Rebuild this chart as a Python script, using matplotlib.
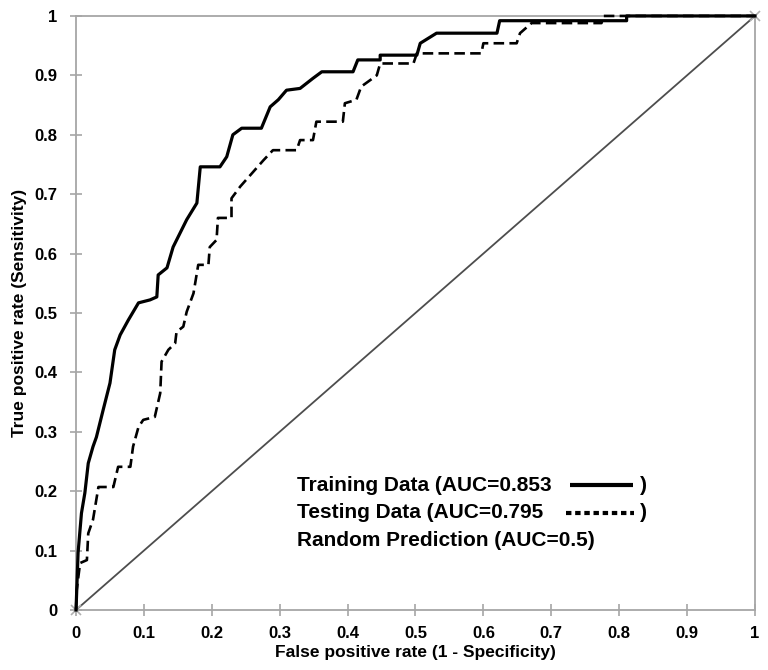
import matplotlib
matplotlib.use("Agg")
import matplotlib.pyplot as plt

# ROC-кривые, значения
train_fpr = [0, 0.003, 0.008, 0.013, 0.018, 0.025, 0.03, 0.04, 0.05, 0.057, 0.065,
             0.077, 0.092, 0.109, 0.119, 0.121, 0.134, 0.143, 0.163, 0.178, 0.183,
             0.212, 0.222, 0.231, 0.244, 0.273, 0.286, 0.298, 0.31, 0.33, 0.349,
             0.362, 0.408, 0.415, 0.448, 0.448, 0.502, 0.507, 0.531, 0.62, 0.624,
             0.811, 0.811, 1.0]
train_tpr = [0, 0.096, 0.163, 0.197, 0.247, 0.275, 0.291, 0.337, 0.382, 0.438, 0.463,
             0.488, 0.517, 0.522, 0.527, 0.564, 0.576, 0.611, 0.657, 0.685, 0.746,
             0.746, 0.763, 0.80, 0.811, 0.811, 0.847, 0.859, 0.875, 0.878, 0.895,
             0.906, 0.906, 0.926, 0.926, 0.934, 0.934, 0.954, 0.971, 0.971, 0.992,
             0.992, 1.0, 1.0]

test_fpr = [0, 0.001, 0.006, 0.016, 0.018, 0.025, 0.033, 0.055, 0.062, 0.08, 0.084,
            0.092, 0.099, 0.116, 0.124, 0.126, 0.136, 0.146, 0.148, 0.158, 0.163,
            0.173, 0.18, 0.195, 0.197, 0.207, 0.209, 0.229, 0.229, 0.242, 0.259,
            0.276, 0.29, 0.325, 0.33, 0.349, 0.354, 0.393, 0.396, 0.413, 0.42,
            0.443, 0.448, 0.497, 0.502, 0.597, 0.6, 0.649, 0.654, 0.671, 0.774,
            0.777, 1.0]
test_tpr = [0, 0.034, 0.079, 0.084, 0.129, 0.152, 0.207, 0.207, 0.241, 0.241, 0.275,
            0.308, 0.32, 0.325, 0.365, 0.418, 0.438, 0.449, 0.468, 0.477, 0.502,
            0.533, 0.581, 0.581, 0.611, 0.623, 0.66, 0.66, 0.693, 0.713, 0.735,
            0.757, 0.774, 0.774, 0.791, 0.791, 0.822, 0.822, 0.853, 0.859, 0.881,
            0.90, 0.92, 0.92, 0.937, 0.937, 0.954, 0.954, 0.971, 0.988, 0.988,
            1.0, 1.0]

random_fpr = [0, 1]
random_tpr = [0, 1]

ticks = [0, 0.1, 0.2, 0.3, 0.4, 0.5, 0.6, 0.7, 0.8, 0.9, 1]
tick_labels = ["0", "0.1", "0.2", "0.3", "0.4", "0.5", "0.6", "0.7", "0.8", "0.9", "1"]

legend_rows = ["Training Data (AUC=0.853", "Testing Data (AUC=0.795",
               "Random Prediction (AUC=0.5)"]

plt.rcParams["font.family"] = ["Liberation Sans", "DejaVu Sans"]
plt.rcParams["font.weight"] = "bold"

fig = plt.figure(figsize=(7.68, 6.7), dpi=100)
ax = fig.add_axes([0.099, 0.0896, 0.884, 0.8866])

axis_gray = "#a6a6a6"

# диагональ случайного предсказания
ax.plot(random_fpr, random_tpr, color="#4d4d4d", lw=1.3, zorder=2)
ax.plot(random_fpr, random_tpr, ls="none", marker="x", ms=7, mew=1.2,
        color="#b0b0b0", zorder=3, clip_on=False)

ax.plot(test_fpr, test_tpr, color="black", lw=1.9, ls=(0, (4, 2)), zorder=4,
        clip_on=False)
ax.plot(train_fpr, train_tpr, color="black", lw=2.3, zorder=5, clip_on=False)

ax.set_xlim(0, 1)
ax.set_ylim(0, 1)
ax.set_xticks(ticks)
ax.set_xticklabels(tick_labels)
ax.set_yticks(ticks)
ax.set_yticklabels(tick_labels)
ax.tick_params(direction="inout", length=9, width=1.2, color=axis_gray,
               labelsize=12, pad=7)
ax.tick_params(axis="y", pad=9)
for lab in ax.get_xticklabels() + ax.get_yticklabels():
    lab.set_fontweight("bold")

for side in ["left", "bottom", "top", "right"]:
    ax.spines[side].set_color(axis_gray)
    ax.spines[side].set_linewidth(1.3)

ax.set_xlabel("False positive rate (1 - Specificity)", fontsize=12.5,
              fontweight="bold", labelpad=3)
ax.set_ylabel("True positive rate (Sensitivity)", fontsize=12.5,
              fontweight="bold", labelpad=5)

# подписи в духе Excel: текст + образец линии + закрывающая скобка
row_y = [0.210, 0.164, 0.117]
for text, yy in zip(legend_rows, row_y):
    ax.text(0.326, yy, text, transform=ax.transAxes, fontsize=15,
            fontweight="bold", va="center", ha="left")
ax.plot([0.728, 0.82], [row_y[0], row_y[0]], transform=ax.transAxes,
        color="black", lw=3, solid_capstyle="butt")
ax.plot([0.722, 0.822], [row_y[1], row_y[1]], transform=ax.transAxes,
        color="black", lw=3, ls=(0, (1.3, 0.9)), dash_capstyle="butt")
for yy in row_y[:2]:
    ax.text(0.831, yy, ")", transform=ax.transAxes, fontsize=15,
            fontweight="bold", va="center", ha="left")

fig.savefig("out.png", dpi=100)
